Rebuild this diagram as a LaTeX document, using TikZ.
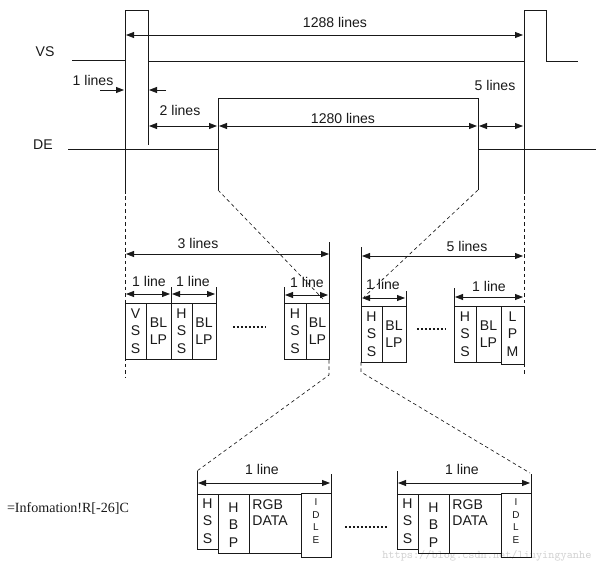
\documentclass[tikz,border=0pt]{standalone}
\usepackage{fontspec}
\setmainfont{Liberation Sans}
\newfontfamily\infofont{Liberation Serif}
\usetikzlibrary{arrows.meta, calc}
\definecolor{mainBlack}{gray}{0.1}
\definecolor{markGray}{gray}{0.82}

\begin{document}
\begin{tikzpicture}[x=0.03cm, y=-0.03cm, line width=0.7pt, mainBlack,
    >={Triangle[length=2.4mm, width=1.8mm]},
    font=\fontsize{12}{15}\selectfont,
    dim/.style={<->},
    guide/.style={dash pattern=on 3pt off 2.5pt, line width=0.55pt},
    txt/.style={align=center, inner sep=0pt},
    tinytxt/.style={align=center, inner sep=0pt, font=\fontsize{8.5}{10.8}\selectfont},
    dots/.style={line width=1.7pt, dash pattern=on 1.6pt off 1.8pt}]
    \useasboundingbox (0,0) rectangle (596,566);

    \coordinate (vsUp) at (125,10);
    \coordinate (vsDown) at (148,10);
    \coordinate (vsUp2) at (524,10);
    \coordinate (vsDown2) at (546,10);
    \coordinate (deUp) at (218,98);
    \coordinate (deDown) at (478,98);

    % Watermark
    \node[anchor=west, text=markGray, font=\ttfamily\fontsize{10}{12}\selectfont] (mark) at (378,556) {https://blog.csdn.net/liuyingyanhe};

    % Signals
    \node (vs) at (45,52) {VS};
    \node (de) at (43,145) {DE};
    \draw (72,60) -- (125,60);
    \draw (125,190) -- (vsUp) -- (vsDown) -- (148,145);
    \draw (148,61) -- (524,61);
    \draw (524,190) -- (vsUp2) -- (vsDown2) -- (546,61) -- (578,61);
    \draw (68,149) -- (218,149);
    \draw (218,190) -- (deUp) -- (deDown) -- (478,190);
    \draw (478,149) -- (596,149);

    % Line counts
    \draw[dim] (126,35) -- (523,35);
    \node (n1288) at (335,22) {1288 lines};
    \draw[->] (100,90) -- (124,90);
    \draw[->] (166,90) -- (149,90);
    \node (n1) at (93,80) {1 lines};
    \draw[dim] (149,126) -- (217,126);
    \node (n2) at (180,110) {2 lines};
    \draw[dim] (219,126) -- (477,126);
    \node (n1280) at (343,118) {1280 lines};
    \draw[dim] (479,126) -- (523,126);
    \node (n5) at (495,85) {5 lines};

    % Zoom guides
    \draw[guide] (125,190) -- (125,378);
    \draw[guide] (524,190) -- (524,376);
    \draw[guide] (218,190) -- (323,299);
    \draw[guide] (478,190) -- (364,297);
    \draw[guide] (329,360) -- (329,375) -- (197,471);
    \draw[guide] (361,362) -- (361,372) -- (530,473);

    % Front porch
    \draw[dim] (126,254) -- (329,254);
    \node (n3) at (198,243) {3 lines};
    \draw (329,242) -- (329,360);
    \foreach \xa/\xb/\txt [count=\i] in {125/146/{V\\S\\S}, 146/171/{BL\\LP}, 171/192/{H\\S\\S}, 192/216/{BL\\LP}, 284/306/{H\\S\\S}, 306/329/{BL\\LP}} {
        \draw (\xa,303) rectangle (\xb,359);
        \node[txt] (fp\i) at ({(\xa+\xb)/2},331) {\txt};
    }
    \draw (171,287) -- (171,303);
    \draw (216,287) -- (216,303);
    \draw (284,287) -- (284,303);
    \draw[dim] (126,294) -- (170,294);
    \draw[dim] (172,294) -- (215,294);
    \draw[dim] (285,295) -- (328,295);
    \node (fpl1) at (149,281) {1 line};
    \node (fpl2) at (193,281) {1 line};
    \node (fpl3) at (307,282) {1 line};
    \draw[dots] (233,327) -- (266,327);

    % Back porch
    \draw[dim] (362,256) -- (523,256);
    \node (n5b) at (467,246) {5 lines};
    \draw (361,247) -- (361,362);
    \foreach \xa/\xb/\txt [count=\i] in {361/382/{H\\S\\S}, 382/406/{BL\\LP}, 454/476/{H\\S\\S}, 476/501/{BL\\LP}} {
        \draw (\xa,306) rectangle (\xb,362);
        \node[txt] (bp\i) at ({(\xa+\xb)/2},334) {\txt};
    }
    \draw (501,306) rectangle (524,364);
    \node[txt] (lpm) at (512.5,334) {L\\P\\M};
    \draw (406,291) -- (406,306);
    \draw (454,288) -- (454,306);
    \draw[dim] (362,298) -- (405,298);
    \draw[dim] (455,297) -- (523,297);
    \node (bpl1) at (383,284) {1 line};
    \node (bpl2) at (489,286) {1 line};
    \draw[dots] (417,329) -- (445,329);

    % One line
    \node[font=\infofont\fontsize{12}{14}\selectfont] (info) at (68,508) {=Infomation!R[-26]C};
    \foreach \ox [count=\i] in {197,397} {
        \draw (\ox,494) rectangle ++(21,55);
        \draw (\ox+21,494) rectangle ++(31,59);
        \draw (\ox+52,494) rectangle ++(52,59);
        \draw (\ox+104,493) rectangle ++(30,64);
        \node[txt] (hss\i) at (\ox+10.5,521) {H\\S\\S};
        \node[txt] (hbp\i) at (\ox+36.5,525) {H\\B\\P};
        \node[txt, anchor=north west, align=left, font=\fontsize{12}{14}\selectfont] (rgb\i) at (\ox+55,499) {RGB\\DATA};
        \node[tinytxt] (idle\i) at (\ox+119,521) {I\\D\\L\\E};
        \draw (\ox,471) -- (\ox,494);
        \draw (\ox+134,474) -- (\ox+134,493);
        \draw[dim] (\ox+1,483) -- (\ox+133,483);
        \node (ll\i) at (\ox+65,469) {1 line};
    }
    \draw[dots] (345,527) -- (388,527);
\end{tikzpicture}
\end{document}
